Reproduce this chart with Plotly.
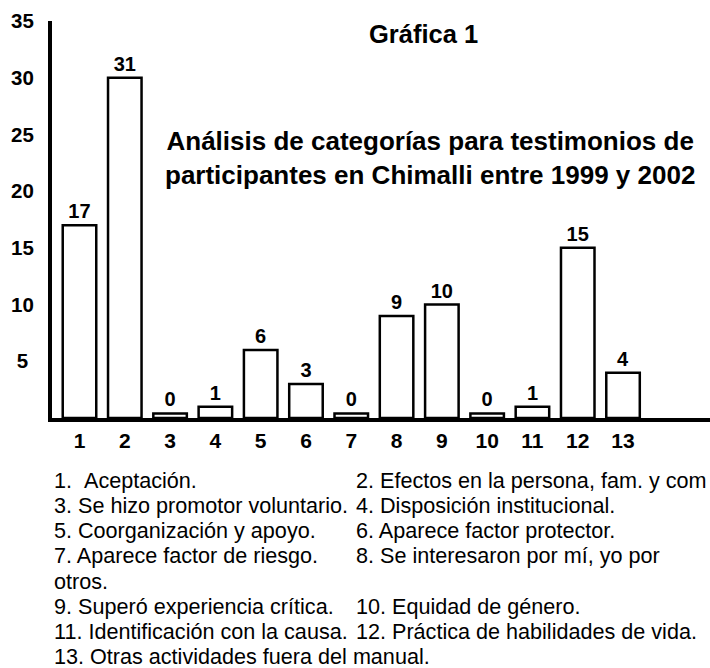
import plotly.graph_objects as go

# ---- data ----
categories = list(range(1, 14))
bar_heights = [17, 30, 0.4, 1, 6, 3, 0.4, 9, 10, 0.4, 1, 15, 4]
bar_labels = ["17", "31", "0", "1", "6", "3", "0", "9", "10", "0", "1", "15", "4"]
x_tick_labels = [str(c) for c in categories]
y_tick_values = [5, 10, 15, 20, 25, 30, 35]
y_tick_labels = ["5\u00a0", "10", "15", "20", "25", "30", "35"]

title_text = "Gráfica 1"
subtitle_text = "Análisis de categorías para testimonios de<br>participantes en Chimalli entre 1999 y 2002"

legend_col1 = [
    "1.\u00a0\u00a0Aceptación.",
    "3. Se hizo promotor voluntario.",
    "5. Coorganización y apoyo.",
    "7. Aparece factor de riesgo.",
    "otros.",
    "9. Superó experiencia crítica.",
    "11. Identificación con la causa.",
    "13. Otras actividades fuera del manual.",
]
legend_col2 = [
    "2. Efectos en la persona, fam. y com",
    "4. Disposición institucional.",
    "6. Aparece factor protector.",
    "8. Se interesaron por mí, yo por",
    "",
    "10. Equidad de género.",
    "12. Práctica de habilidades de vida.",
    "",
]

# ---- layout geometry (pixels) ----
W, H = 710, 668
ML, MR, MT = 52, 0, 21
PLOT_H = 397
MB = H - MT - PLOT_H
PLOT_W = W - ML - MR

FONT = "Liberation Sans, Arial, Helvetica, sans-serif"
LEG_SIZE = 21.6


def px_to_paper_x(px):
    return (px - ML) / PLOT_W


def px_to_paper_y(py):
    return (MT + PLOT_H - py) / PLOT_H


fig = go.Figure()
fig.add_trace(go.Bar(
    x=categories,
    y=bar_heights,
    text=bar_labels,
    textposition="outside",
    constraintext="none",
    cliponaxis=False,
    textfont=dict(family=FONT, size=20, color="black", weight="bold"),
    marker=dict(color="white", line=dict(color="black", width=2.5)),
    width=0.74,
    hoverinfo="skip",
))

annotations = []
annotations.append(dict(
    text="<b>" + title_text + "</b>", x=px_to_paper_x(423), y=px_to_paper_y(34),
    xref="paper", yref="paper", xanchor="center", yanchor="middle",
    showarrow=False, font=dict(family=FONT, size=25.5, color="black"),
))
annotations.append(dict(
    text="<b>" + subtitle_text.replace("<br>", "</b><br><b>") + "</b>",
    x=px_to_paper_x(430), y=px_to_paper_y(158.5),
    xref="paper", yref="paper", xanchor="center", yanchor="middle",
    showarrow=False, align="center",
    font=dict(family=FONT, size=26, color="black"),
))

line_y = [480, 505.3, 530.6, 555.9, 581.2, 606.5, 631.8, 656.5]
for i, (t1, t2) in enumerate(zip(legend_col1, legend_col2)):
    if t1:
        annotations.append(dict(
            text=t1, x=px_to_paper_x(53), y=px_to_paper_y(line_y[i]),
            xref="paper", yref="paper", xanchor="left", yanchor="middle",
            showarrow=False, borderpad=0,
            font=dict(family=FONT, size=LEG_SIZE, color="black"),
        ))
    if t2:
        annotations.append(dict(
            text=t2, x=px_to_paper_x(355), y=px_to_paper_y(line_y[i]),
            xref="paper", yref="paper", xanchor="left", yanchor="middle",
            showarrow=False, borderpad=0,
            font=dict(family=FONT, size=LEG_SIZE, color="black"),
        ))

fig.update_layout(
    width=W, height=H,
    margin=dict(l=ML, r=MR, t=MT, b=MB, pad=0),
    paper_bgcolor="white", plot_bgcolor="white",
    showlegend=False,
    annotations=annotations,
    font=dict(family=FONT, color="black"),
)
fig.update_xaxes(
    range=[0.393, 14.92],
    tickmode="array", tickvals=categories, ticktext=x_tick_labels,
    showgrid=False, zeroline=False,
    showline=True, linecolor="black", linewidth=4,
    ticks="", ticklabelstandoff=1,
    tickfont=dict(family=FONT, size=21, color="black", weight="bold"),
)
fig.update_yaxes(
    range=[0, 35],
    tickmode="array", tickvals=y_tick_values, ticktext=y_tick_labels,
    showgrid=False, zeroline=False,
    showline=True, linecolor="black", linewidth=4,
    ticks="", ticklabelstandoff=10,
    tickfont=dict(family=FONT, size=20.5, color="black", weight="bold"),
)

fig.write_html(
    "out.html",
    config={"displayModeBar": False, "staticPlot": True},
    post_script="document.body.style.margin='0';document.body.style.padding='0';"
                "document.documentElement.style.overflow='hidden';",
)
